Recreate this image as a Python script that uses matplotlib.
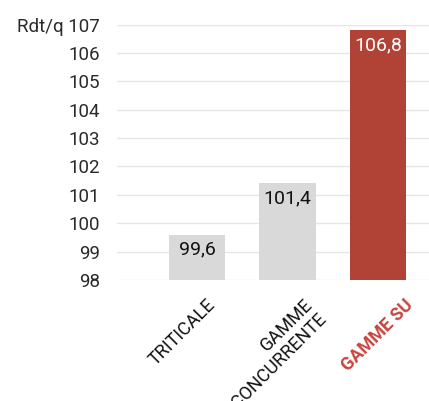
import matplotlib
matplotlib.use("Agg")
import matplotlib.pyplot as plt

categories = ["TRITICALE", "GAMME\nCONCURRENTE", "GAMME SU"]
values = [99.6, 101.4, 106.8]
value_labels = ["99,6", "101,4", "106,8"]
y_ticks = [98, 99, 100, 101, 102, 103, 104, 105, 106, 107]
y_tick_labels = ["98", "99", "100", "101", "102", "103", "104", "105", "106", "Rdt/q 107"]

bar_colors = ["#d9d9d9", "#d9d9d9", "#b04236"]
label_colors = ["#111111", "#111111", "#ffffff"]
cat_colors = ["#111111", "#111111", "#c8443e"]
cat_weights = ["normal", "normal", "bold"]
cat_dx = [9, 16, 26]

plt.rcParams["font.family"] = ["Roboto", "DejaVu Sans"]

fig = plt.figure(figsize=(4.29, 4.01), dpi=100)
ax = fig.add_axes([117/429, 121/401, 312/429, 255.5/401])

x = list(range(len(categories)))
ax.bar(x, [v - 98 for v in values], bottom=98, width=0.62, color=bar_colors, zorder=2)

ax.set_ylim(98, 107)
ax.set_xlim(-0.884, 2.564)
ax.set_yticks(y_ticks)
ax.set_yticklabels(y_tick_labels, fontsize=13.5, color="#2a2a2a")
ax.tick_params(axis="y", length=0, pad=12)
ax.set_xticks([])
ax.grid(axis="y", color="#e6e6e6", linewidth=1, zorder=0)
for s in ax.spines.values():
    s.set_visible(False)

for i, (v, lab) in enumerate(zip(values, value_labels)):
    ax.annotate(lab, xy=(i, v), xytext=(0, -15), textcoords="offset pixels",
                ha="center", va="center", fontsize=14, color=label_colors[i], zorder=3)

for i, cat in enumerate(categories):
    ax.annotate(cat, xy=(i, 98), xytext=(cat_dx[i], -16), textcoords="offset pixels",
                ha="right", va="top", rotation=45, rotation_mode="anchor",
                multialignment="right", linespacing=1.15,
                fontsize=13, color=cat_colors[i], fontweight=cat_weights[i],
                annotation_clip=False)

fig.savefig("out.png", dpi=100)
